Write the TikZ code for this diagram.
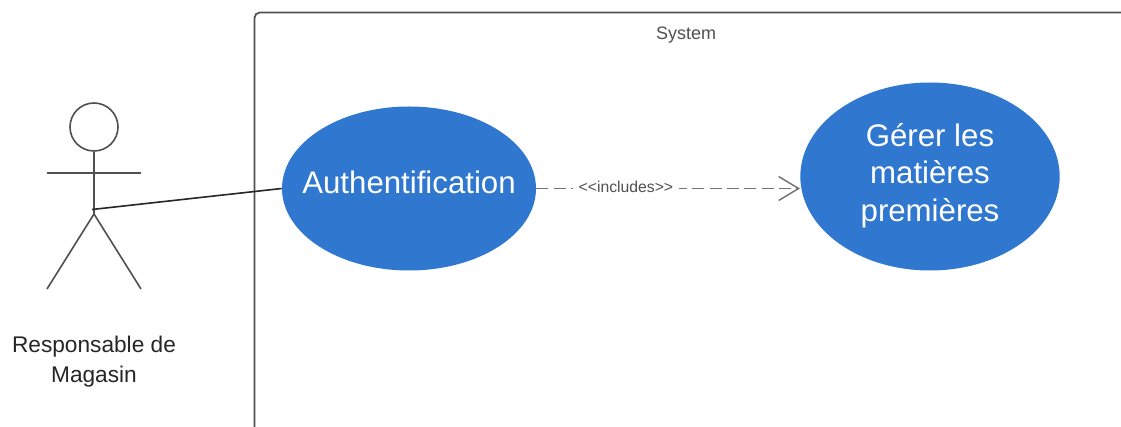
\documentclass[tikz,border=0pt]{standalone}
\usepackage{fontspec}
\setmainfont{Liberation Sans}
\usepackage{color}
\usetikzlibrary{arrows.meta,positioning,calc,shapes.geometric}
\definecolor{ucblue}{HTML}{3077CF}
\definecolor{ucline}{HTML}{505050}
\begin{document}
\begin{tikzpicture}[x=0.75pt,y=-0.75pt,
			usecase/.style={ellipse,fill=ucblue,text=white,inner sep=0pt,align=center,font=\fontsize{23.4}{28}\selectfont},
			actorline/.style={draw=ucline,line width=1.2pt},
			head/.style={circle,draw=ucline,line width=1.2pt,inner sep=0pt,minimum size=36pt}]
		\useasboundingbox (0,0) rectangle (1121,427);
		\draw [ucline,line width=1.3pt,rounded corners=4pt] (254.5,440) -- (254.5,12.5) -- (1135,12.5);
		\path 	(686,35) 	node 	(sys) [text=ucline,font=\fontsize{13.5}{16}\selectfont] {System}
		        (94,127) 	node 	(head) [head] {}
		        (409,188.5) node 	(auth) [usecase,minimum width=190.5pt,minimum height=123pt] {\makebox[0pt]{\raisebox{8.8pt}{Authentification}}}
		        (930,176.5) node 	(gerer) [usecase,minimum width=194.5pt,minimum height=141pt] {\makebox[0pt]{\raisebox{7pt}{\begin{tabular}{@{}c@{}}Gérer les\\matières\\premières\end{tabular}}}}
		        (94,361.5) 	node 	(lbl) [align=center,text=black!85,font=\fontsize{17}{22}\selectfont] {Responsable de\\Magasin};
		\coordinate (hip) at (94,214);
		\coordinate (armL) at (47,173);
		\coordinate (armR) at (141,173);
		\coordinate (footL) at (47,289);
		\coordinate (footR) at (141,289);
		\coordinate (waist) at (92,209.5);
		\draw [actorline] (head) -- (hip);
		\draw [actorline] (armL) -- (armR);
		\draw [actorline] (footL) -- (hip) -- (footR);
		\draw [black!85,line width=1.2pt] (waist) -- (auth.west);
		\draw [ucline!80,line width=1.1pt,dash pattern=on 9pt off 4pt,-{Straight Barb[length=15pt,width=18pt,line width=1.1pt]}] (auth.east) -- (gerer.west |- auth.east)
			node [pos=0.34,yshift=1pt,fill=white,inner xsep=4pt,inner ysep=1pt,text=ucline,font=\fontsize{11.8}{14}\selectfont] (inc) {<{}<includes>{}>};
	\end{tikzpicture}
\end{document}
